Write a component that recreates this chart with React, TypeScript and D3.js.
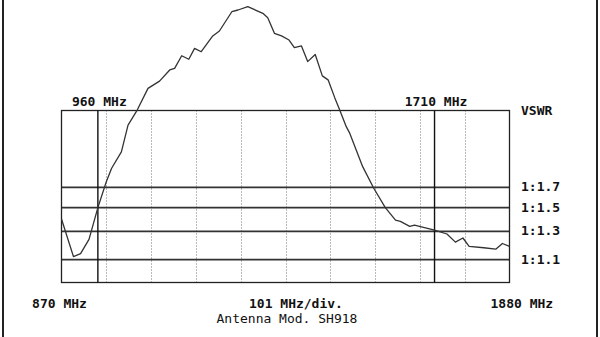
import React from 'react';
import * as d3 from 'd3';

// sweep readings: frequency (MHz) / VSWR
const freqs = [870, 897, 913, 932, 952, 971, 983, 1005, 1020, 1041, 1065, 1091, 1114, 1125, 1141, 1157, 1170, 1185, 1211, 1226, 1254, 1268, 1290, 1324, 1335, 1350, 1366, 1383, 1395, 1411, 1425, 1442, 1458, 1471, 1486, 1497, 1512, 1520, 1549, 1574, 1600, 1623, 1634, 1655, 1666, 1677, 1711, 1739, 1758, 1775, 1789, 1822, 1849, 1864, 1880];
const vswr = [1.40, 1.12, 1.14, 1.24, 1.50, 1.76, 1.92, 2.14, 2.58, 2.89, 3.43, 3.65, 4.03, 4.09, 4.62, 4.46, 4.98, 4.81, 5.71, 6.05, 7.80, 8.0, 8.41, 7.62, 7.17, 5.89, 5.71, 5.45, 5.02, 5.11, 4.36, 4.68, 3.82, 3.69, 3.18, 2.89, 2.55, 2.43, 1.94, 1.69, 1.50, 1.39, 1.38, 1.34, 1.35, 1.34, 1.31, 1.28, 1.22, 1.25, 1.19, 1.18, 1.17, 1.21, 1.19];

const vswrTicks = [1.7, 1.5, 1.3, 1.1];
const vswrTickLabels = ['1:1.7', '1:1.5', '1:1.3', '1:1.1'];
const gridFreqs = [971, 1072, 1173, 1274, 1375, 1476, 1577, 1678, 1779];
const markerFreqs = [952, 1711];
const markerLabels = ['960 MHz', '1710 MHz'];

const W = 600;
const H = 337;
const left = 61.5;
const right = 509.5;
const top = 110.5;
const bottom = 282.5;

const font = '"DejaVu Sans Mono", monospace';

// reflection coefficient from VSWR, the screen is linear in it
const gamma = (s: number) => (s - 1) / (s + 1);

const App: React.FC = () => {
  const x = d3.scaleLinear().domain([870, 1880]).range([left, right]);
  const y = d3.scaleLinear().domain([0, 0.5]).range([276, 105]);

  const line = d3.line<number>()
    .x((_, i) => x(freqs[i]))
    .y((d) => y(gamma(d)));

  return (
    <div style={{ position: 'fixed', left: 0, top: 0 }}>
      <svg width={W} height={H} style={{ display: 'block', background: '#fff' }}>
        <rect x={0} y={0} width={W} height={H} fill="#fff" />
        {/* frame */}
        <line x1={3} x2={3} y1={0} y2={H} stroke="#222" strokeWidth={2} />
        <line x1={597} x2={597} y1={0} y2={H} stroke="#222" strokeWidth={2} />

        {/* dotted division lines */}
        {gridFreqs.map((f) => (
          <line key={f} x1={Math.round(x(f)) + 0.5} x2={Math.round(x(f)) + 0.5} y1={top} y2={bottom}
            stroke="#777" strokeWidth={1} strokeDasharray="1,2" />
        ))}

        {/* vswr levels */}
        {vswrTicks.map((v, i) => (
          <g key={v}>
            <line x1={left} x2={right} y1={y(gamma(v))} y2={y(gamma(v))} stroke="#333" strokeWidth={1.8} />
            <text x={521} y={y(gamma(v)) + 4} fontFamily={font} fontSize={13} fontWeight="bold" fill="#111">
              {vswrTickLabels[i]}
            </text>
          </g>
        ))}

        {/* box */}
        <rect x={left} y={top} width={right - left} height={bottom - top} fill="none" stroke="#222" strokeWidth={1.3} />

        {/* band markers */}
        {markerFreqs.map((f, i) => (
          <g key={f}>
            <line x1={x(f)} x2={x(f)} y1={top} y2={bottom} stroke="#111" strokeWidth={1.4} />
            <text x={x(f) + 1.5} y={106} textAnchor="middle" fontFamily={font} fontSize={13} fontWeight="bold" fill="#111">
              {markerLabels[i]}
            </text>
          </g>
        ))}

        <text x={521} y={115} fontFamily={font} fontSize={13} fontWeight="bold" fill="#111">VSWR</text>

        {/* sweep */}
        <path d={line(vswr) ?? ''} fill="none" stroke="#333" strokeWidth={1.3} strokeLinejoin="round" />

        <text x={x(870) - 2} y={308} textAnchor="middle" fontFamily={font} fontSize={13} fontWeight="bold" fill="#111">870 MHz</text>
        <text x={249} y={308} fontFamily={font} fontSize={13} fontWeight="bold" fill="#111">101 MHz/div.</text>
        <text x={216.5} y={323} fontFamily={font} fontSize={13} fill="#111">Antenna Mod. SH918</text>
        <text x={490.5} y={308} fontFamily={font} fontSize={13} fontWeight="bold" fill="#111">1880 MHz</text>
      </svg>
    </div>
  );
};

export default App;
